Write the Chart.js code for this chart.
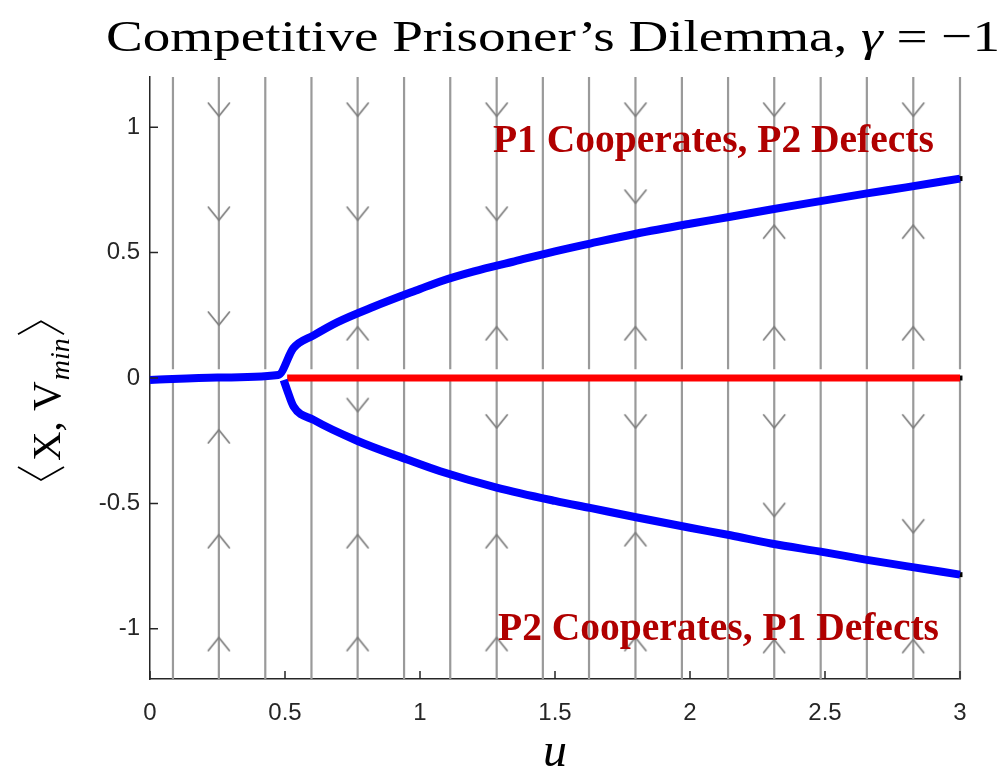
<!DOCTYPE html>
<html>
<head>
<meta charset="utf-8">
<script src="https://cdn.jsdelivr.net/npm/chart.js@4/dist/chart.umd.min.js"></script>
<style>
  html, body { margin: 0; padding: 0; background: #ffffff; }
  #wrap { width: 1006px; height: 774px; position: relative; }
</style>
</head>
<body>
<div id="wrap"><canvas id="c" width="1006" height="774"></canvas></div>
<script>
// ---- axes ----
const xRange = [0, 3];
const yRange = [-1.2, 1.2];
const xTicks = [0, 0.5, 1, 1.5, 2, 2.5, 3];
const yTicks = [-1, -0.5, 0, 0.5, 1];

// ---- flow lines (u positions) and the small break just above the unstable branch ----
const flowU = [0.085, 0.255, 0.427, 0.598, 0.769, 0.941, 1.112, 1.284, 1.455,
               1.626, 1.798, 1.970, 2.141, 2.312, 2.484, 2.655, 2.827, 3.0];
const flowGap = [0.035, 0];

// ---- arrowheads on the flow lines: tip position and direction (1 = up, -1 = down) ----
const arrowU = [
  0.255, 0.255, 0.255, 0.255, 0.255, 0.255,
  0.769, 0.769, 0.769, 0.769, 0.769, 0.769,
  1.284, 1.284, 1.284, 1.284, 1.284, 1.284,
  1.798, 1.798, 1.798, 1.798, 1.798, 1.798,
  2.312, 2.312, 2.312, 2.312, 2.312, 2.312,
  2.827, 2.827, 2.827, 2.827, 2.827, 2.827
];
const arrowY = [
  1.044, 0.629, 0.211, -0.207, -0.625, -1.035,
  1.044, 0.629, 0.204, -0.134, -0.625, -1.035,
  1.044, 0.629, 0.204, -0.199, -0.625, -1.035,
  1.044, 0.697, 0.204, -0.199, -0.617, -1.035,
  1.044, 0.609, 0.204, -0.199, -0.552, -1.043,
  1.044, 0.609, 0.204, -0.199, -0.617, -1.043
];
const arrowDir = [
  -1, -1, -1,  1,  1,  1,
  -1, -1,  1, -1,  1,  1,
  -1, -1,  1, -1,  1,  1,
  -1, -1,  1, -1,  1,  1,
  -1,  1,  1, -1, -1,  1,
  -1,  1,  1, -1, -1,  1
];

// ---- stable branches (blue) ----
const upperU = [0, 0.25, 0.475, 0.531, 0.606, 0.693, 0.828, 1.0, 1.075, 1.2, 1.35, 1.5,
                1.63, 1.8, 2.0, 2.15, 2.3, 2.5, 2.65, 2.8, 3.0];
const upperY = [-0.008, 0.002, 0.012, 0.119, 0.17, 0.222, 0.284, 0.355, 0.385, 0.425, 0.465, 0.505,
                0.536, 0.575, 0.615, 0.643, 0.672, 0.708, 0.735, 0.76, 0.795];
const lowerU = [0.495, 0.508, 0.532, 0.606, 0.767, 0.952, 1.075, 1.284, 1.5, 1.63, 1.8,
                2.0, 2.15, 2.3, 2.5, 2.65, 2.8, 3.0];
const lowerY = [-0.008, -0.048, -0.114, -0.167, -0.25, -0.325, -0.372, -0.437, -0.49, -0.518, -0.555,
                -0.597, -0.627, -0.66, -0.695, -0.724, -0.75, -0.784];

// ---- unstable branch (red) ----
const unstableU = [0.508, 3.0];
const unstableY = [0, 0];

// ---- region labels ----
const regionText = ['P1 Cooperates, P2 Defects', 'P2 Cooperates, P1 Defects'];
const regionU = [1.270, 1.289];
const regionY = [0.900, -1.043];

const toXY = (xs, ys) => xs.map((x, i) => ({ x: x, y: ys[i] }));

const flowData = [];
flowU.forEach(u => {
  flowData.push({ x: u, y: yRange[1] }, { x: u, y: flowGap[0] }, { x: u, y: null },
                { x: u, y: flowGap[1] }, { x: u, y: yRange[0] }, { x: u, y: null });
});

const endData = [
  { x: upperU[upperU.length - 1], y: upperY[upperY.length - 1] },
  { x: lowerU[lowerU.length - 1], y: lowerY[lowerY.length - 1] },
  { x: unstableU[unstableU.length - 1], y: unstableY[unstableY.length - 1] }
];

// open chevron used as the arrowhead marker; tip sits at the image centre
const chevron = (() => {
  const c = document.createElement('canvas');
  c.width = 26; c.height = 30;
  const g = c.getContext('2d');
  g.strokeStyle = '#7c7c7c';
  g.lineWidth = 1.7;
  g.lineCap = 'round';
  g.lineJoin = 'round';
  g.beginPath();
  g.moveTo(2.5, 2); g.lineTo(13, 15); g.lineTo(23.5, 2);
  g.stroke();
  return c;
})();

const INK = '#262626';

const decor = {
  id: 'decor',
  afterDatasetsDraw(chart) {
    const { ctx, scales: { x, y } } = chart;
    ctx.save();
    ctx.fillStyle = '#b00000';
    ctx.font = 'bold 39.5px "Liberation Serif"';
    ctx.textAlign = 'left';
    ctx.textBaseline = 'alphabetic';
    regionText.forEach((t, i) => {
      ctx.fillText(t, x.getPixelForValue(regionU[i]), y.getPixelForValue(regionY[i]));
    });
    ctx.restore();
  },
  afterDraw(chart) {
    const { ctx, chartArea: a, scales: { x, y } } = chart;
    ctx.save();
    // inward tick marks
    ctx.strokeStyle = INK;
    ctx.lineWidth = 1.5;
    ctx.beginPath();
    xTicks.forEach(v => {
      const px = x.getPixelForValue(v);
      ctx.moveTo(px, a.bottom); ctx.lineTo(px, a.bottom - 8);
    });
    yTicks.forEach(v => {
      const py = y.getPixelForValue(v);
      ctx.moveTo(a.left, py); ctx.lineTo(a.left + 8, py);
    });
    ctx.stroke();

    // title
    ctx.fillStyle = '#000';
    ctx.textBaseline = 'alphabetic';
    ctx.textAlign = 'left';
    const roman = '45px "Liberation Serif"';
    const ital = 'italic 45px "Liberation Serif"';
    const parts = [
      ['Competitive Prisoner\u2019s Dilemma, ', roman],
      ['\u03B3', ital],
      [' = \u22121', roman]
    ];
    let w = 0;
    parts.forEach(p => { ctx.font = p[1]; w += ctx.measureText(p[0]).width; });
    const tLeft = 106, tRight = 1000;
    const sx = (tRight - tLeft) / w;
    ctx.save();
    ctx.translate(tLeft, 51);
    ctx.scale(sx, 1);
    let cx = 0;
    parts.forEach(p => { ctx.font = p[1]; ctx.fillText(p[0], cx, 0); cx += ctx.measureText(p[0]).width; });
    ctx.restore();

    // x label
    ctx.font = 'italic 48px "Liberation Serif"';
    ctx.textAlign = 'center';
    ctx.fillText('u', (a.left + a.right) / 2, 766);

    // y label  <X, V_min>
    ctx.save();
    ctx.translate(60, 484);
    ctx.rotate(-Math.PI / 2);
    ctx.textAlign = 'left';
    ctx.strokeStyle = '#000';
    ctx.lineWidth = 1.8;
    let p = 0;
    // left angle bracket
    ctx.beginPath();
    ctx.moveTo(p + 17, -42); ctx.lineTo(p + 4, -19); ctx.lineTo(p + 17, 4);
    ctx.stroke();
    p += 23;
    ctx.font = '41px "Liberation Serif"';
    ctx.fillText('X, ', p, 0); p += ctx.measureText('X, ').width;
    ctx.fillText('V', p, 0); p += ctx.measureText('V').width;
    ctx.font = 'italic 28px "Liberation Serif"';
    ctx.fillText('min', p + 1, 9); p += ctx.measureText('min').width + 4;
    // right angle bracket
    ctx.beginPath();
    ctx.moveTo(p + 1, -42); ctx.lineTo(p + 14, -19); ctx.lineTo(p + 1, 4);
    ctx.stroke();
    ctx.restore();

    ctx.restore();
  }
};

new Chart(document.getElementById('c'), {
  type: 'scatter',
  data: {
    datasets: [
      { data: toXY(upperU, upperY), showLine: true, borderColor: '#0000ff', borderWidth: 8,
        pointRadius: 0, borderCapStyle: 'butt', borderJoinStyle: 'round',
        cubicInterpolationMode: 'monotone', clip: false },
      { data: toXY(lowerU, lowerY), showLine: true, borderColor: '#0000ff', borderWidth: 8,
        pointRadius: 0, borderCapStyle: 'butt', borderJoinStyle: 'round',
        cubicInterpolationMode: 'monotone', clip: false },
      { data: toXY(unstableU, unstableY), showLine: true, borderColor: '#ff0000', borderWidth: 7,
        pointRadius: 0, borderCapStyle: 'butt', clip: false },
      { data: endData, showLine: false, pointStyle: 'rect', pointRadius: 3.5,
        backgroundColor: '#000', borderWidth: 0, clip: false },
      { data: toXY(arrowU, arrowY), showLine: false, pointStyle: chevron,
        pointRotation: c => (arrowDir[c.dataIndex] > 0 ? 180 : 0), clip: false },
      { data: flowData, showLine: true, spanGaps: false, borderColor: '#9a9a9a', borderWidth: 2.2,
        pointRadius: 0, clip: false }
    ]
  },
  options: {
    responsive: false,
    animation: false,
    events: [],
    layout: { padding: { top: 77, right: 46, bottom: 0, left: 0 } },
    plugins: { legend: { display: false }, tooltip: { enabled: false }, title: { display: false } },
    scales: {
      x: {
        type: 'linear', min: xRange[0], max: xRange[1],
        afterBuildTicks: s => { s.ticks = xTicks.map(v => ({ value: v })); },
        afterFit: s => { s.height = 95; },
        grid: { display: false, drawTicks: false },
        border: { display: true, color: INK, width: 1.5 },
        ticks: { color: INK, padding: 20, maxRotation: 0, autoSkip: false,
                 font: { family: 'Liberation Sans', size: 24 }, callback: v => String(v) }
      },
      y: {
        type: 'linear', min: yRange[0], max: yRange[1],
        afterBuildTicks: s => { s.ticks = yTicks.map(v => ({ value: v })); },
        afterFit: s => { s.width = 150; },
        grid: { display: false, drawTicks: false },
        border: { display: true, color: INK, width: 1.5 },
        ticks: { color: INK, padding: 10, autoSkip: false,
                 font: { family: 'Liberation Sans', size: 24 }, callback: v => String(v) }
      }
    }
  },
  plugins: [decor]
});
</script>
</body>
</html>
